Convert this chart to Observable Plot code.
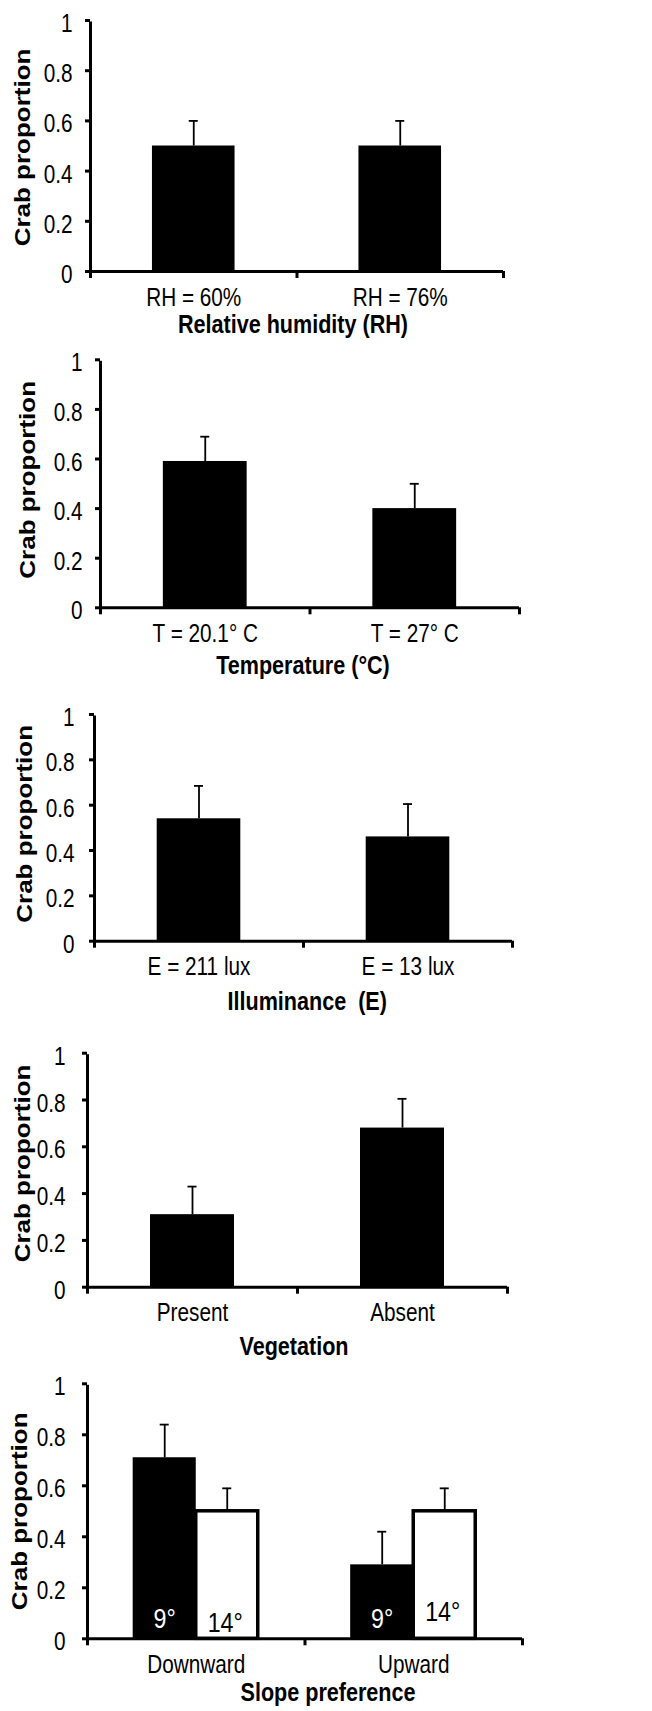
<!DOCTYPE html>
<html>
<head>
<meta charset="utf-8">
<script src="https://cdn.jsdelivr.net/npm/d3@7"></script>
<script src="https://cdn.jsdelivr.net/npm/@observablehq/plot@0.6"></script>
<style>
  html, body { margin: 0; padding: 0; background: #fff; overflow: hidden; }
  #charts svg { display: block; }
</style>
</head>
<body>
<div id="charts"></div>
<script>
// ---- data ----
const yTicks = [0, 0.2, 0.4, 0.6, 0.8, 1];
const yLabel = "Crab proportion";

const humidityTitle = "Relative humidity (RH)";
const humidityCats = ["RH = 60%", "RH = 76%"];
const humidityValues = [0.5, 0.5];
const humidityErr = [0.1, 0.1];

const tempTitle = "Temperature (°C)";
const tempCats = ["T = 20.1° C", "T = 27° C"];
const tempValues = [0.59, 0.40];
const tempErr = [0.10, 0.10];

const lightTitle = "Illuminance  (E)";
const lightCats = ["E = 211 lux", "E = 13 lux"];
const lightValues = [0.54, 0.46];
const lightErr = [0.145, 0.145];

const vegTitle = "Vegetation";
const vegCats = ["Present", "Absent"];
const vegValues = [0.31, 0.68];
const vegErr = [0.12, 0.125];

const slopeTitle = "Slope preference";
const slopeCats = ["Downward", "Upward"];
const slopeAngles = ["9°", "14°"];
const slope9Values = [0.71, 0.29];
const slope9Err = [0.13, 0.13];
const slope14Values = [0.5, 0.5];
const slope14Err = [0.09, 0.09];

// ---- styling ----
const W = 652;
const FONT = "'Liberation Sans',Arial,Helvetica,sans-serif";
const TICK_FS = 25;
const TITLE_FS = 26;
const CAP = 9;
const SQUEEZE = 0.83; // the reference text is horizontally condensed

function axesMarks(o, cats, band) {
  const last = cats[cats.length - 1];
  return [
    Plot.ruleY([0], {strokeWidth: 3, stroke: "black"}),
    Plot.ruleX([cats[0]], {x: d => d, y1: () => 0, y2: () => 1, dx: -band / 2, strokeWidth: 3, stroke: "black", insetBottom: -1.5}),
    Plot.ruleX(cats, {x: d => d, y1: () => 0, y2: () => 0, dx: -band / 2, insetBottom: -7, strokeWidth: 3, stroke: "black"}),
    Plot.ruleX([last], {x: d => d, y1: () => 0, y2: () => 0, dx: band / 2, insetBottom: -7, strokeWidth: 3, stroke: "black"}),
    Plot.ruleY(yTicks, {y: d => d, x1: () => cats[0], x2: () => cats[0], insetLeft: -5, insetRight: band, strokeWidth: 3, stroke: "black"}),
    Plot.axisY({ticks: yTicks, tickFormat: d => String(d), tickSize: 0, tickPadding: o.yPad, dy: 3.5, fontSize: TICK_FS, label: null}),
    Plot.axisX({tickSize: 0, tickPadding: 34 - 0.71 * TICK_FS, fontSize: TICK_FS, label: null}),
    Plot.text([yLabel], {text: d => d, frameAnchor: "left", rotate: -90, textAnchor: "middle", lineAnchor: "middle",
      dx: o.ylabX - o.ml, dy: o.ylabDy, fontWeight: "bold", fontSize: TITLE_FS, fill: "black", className: "ylab"}),
    Plot.text([o.title], {text: d => d, frameAnchor: "bottom", textAnchor: "middle", lineAnchor: "bottom",
      dx: o.titleDx, dy: o.titleDy, fontWeight: "bold", fontSize: TITLE_FS, fill: "black"})
  ];
}

const plotStyle = {fontFamily: FONT, fontSize: TICK_FS + "px", background: "white", color: "black", overflow: "visible"};

function simplePanel(o) {
  const band = (W - o.ml - o.mr) / o.cats.length;
  const rows = o.cats.map((c, i) => ({cat: c, value: o.values[i], err: o.err[i]}));
  return Plot.plot({
    width: W, height: o.h,
    marginTop: o.mt, marginBottom: o.mb, marginLeft: o.ml, marginRight: o.mr,
    style: plotStyle,
    x: {domain: o.cats, padding: 0, round: false, label: null},
    y: {domain: [0, 1], label: null},
    marks: [
      Plot.barY(rows, {x: "cat", y: "value", fill: "black", insetLeft: 0.3 * band, insetRight: 0.3 * band}),
      Plot.ruleX(rows, {x: "cat", y1: "value", y2: d => d.value + d.err, strokeWidth: 1.8, stroke: "black"}),
      Plot.tickY(rows, {x: "cat", y: d => d.value + d.err, insetLeft: (band - CAP) / 2, insetRight: (band - CAP) / 2, strokeWidth: 1.8, stroke: "black"}),
      ...axesMarks(o, o.cats, band)
    ]
  });
}

function slopePanel(o) {
  const cats = slopeCats;
  const band = (W - o.ml - o.mr) / cats.length;
  const rows9 = cats.map((c, i) => ({cat: c, value: slope9Values[i], err: slope9Err[i], label: slopeAngles[0]}));
  const rows14 = cats.map((c, i) => ({cat: c, value: slope14Values[i], err: slope14Err[i], label: slopeAngles[1]}));
  const bL = 0.21, mid = 0.5, wR = 0.785;
  const c9 = (bL + mid) / 2, c14 = (mid + wR) / 2;
  return Plot.plot({
    width: W, height: o.h,
    marginTop: o.mt, marginBottom: o.mb, marginLeft: o.ml, marginRight: o.mr,
    style: plotStyle,
    x: {domain: cats, padding: 0, round: false, label: null},
    y: {domain: [0, 1], label: null},
    marks: [
      Plot.barY(rows9, {x: "cat", y: "value", fill: "black", insetLeft: bL * band, insetRight: (1 - mid) * band}),
      Plot.barY(rows14, {x: "cat", y: "value", fill: "white", stroke: "black", strokeWidth: 3.5, insetLeft: mid * band, insetRight: (1 - wR) * band}),
      Plot.ruleX(rows9, {x: "cat", y1: "value", y2: d => d.value + d.err, dx: (c9 - 0.5) * band, strokeWidth: 1.8, stroke: "black"}),
      Plot.tickY(rows9, {x: "cat", y: d => d.value + d.err, insetLeft: c9 * band - CAP / 2, insetRight: (1 - c9) * band - CAP / 2, strokeWidth: 1.8, stroke: "black"}),
      Plot.ruleX(rows14, {x: "cat", y1: "value", y2: d => d.value + d.err, dx: (c14 - 0.5) * band, strokeWidth: 1.8, stroke: "black"}),
      Plot.tickY(rows14, {x: "cat", y: d => d.value + d.err, insetLeft: c14 * band - CAP / 2, insetRight: (1 - c14) * band - CAP / 2, strokeWidth: 1.8, stroke: "black"}),
      Plot.text(rows9, {x: "cat", y: () => 0, text: "label", dx: (c9 - 0.5) * band, dy: -11, lineAnchor: "bottom", fill: "white", fontSize: 28}),
      Plot.text([rows14[0]], {x: "cat", y: () => 0, text: "label", dx: (c14 - 0.5) * band - 2, dy: -6.6, lineAnchor: "bottom", fill: "black", fontSize: 28}),
      Plot.text([rows14[1]], {x: "cat", y: () => 0, text: "label", dx: (c14 - 0.5) * band - 2, dy: -18.3, lineAnchor: "bottom", fill: "black", fontSize: 28}),
      ...axesMarks(o, cats, band)
    ]
  });
}

// condense text horizontally (on screen) like the reference
function condense(svg) {
  for (const t of svg.querySelectorAll("text")) {
    const prev = t.getAttribute("transform") || "";
    if (t.closest(".ylab")) {
      // rotated label: screen-horizontal is its local y axis
      t.setAttribute("transform", `${prev} scale(1,${SQUEEZE})`.trim());
      continue;
    }
    const xa = parseFloat(t.getAttribute("x")) || 0;
    t.setAttribute("transform", `${prev} translate(${xa},0) scale(${SQUEEZE},1) translate(${-xa},0)`.trim());
  }
}

const root = document.getElementById("charts");
const panels = [
  simplePanel({cats: humidityCats, values: humidityValues, err: humidityErr, title: humidityTitle,
    h: 343, mt: 20, mb: 72, ml: 90, mr: 149, yPad: 18, titleDx: -4, titleDy: 61, ylabX: 23, ylabDy: 1.5}),
  simplePanel({cats: tempCats, values: tempValues, err: tempErr, title: tempTitle,
    h: 345, mt: 16.3, mb: 80.7, ml: 100, mr: 133, yPad: 18, titleDx: -7, titleDy: 66, ylabX: 27.5, ylabDy: -4}),
  simplePanel({cats: lightCats, values: lightValues, err: lightErr, title: lightTitle,
    h: 337, mt: 26, mb: 84.3, ml: 94, mr: 140, yPad: 20, titleDx: 3.7, titleDy: 69, ylabX: 25, ylabDy: -4}),
  simplePanel({cats: vegCats, values: vegValues, err: vegErr, title: vegTitle,
    h: 341, mt: 27.7, mb: 79.3, ml: 87, mr: 145, yPad: 22, titleDx: -3.5, titleDy: 68, ylabX: 23, ylabDy: -6.7}),
  slopePanel({title: slopeTitle,
    h: 345, mt: 17.3, mb: 72.7, ml: 87, mr: 130, yPad: 22, titleDx: 23, titleDy: 62, ylabX: 20, ylabDy: 0})
];
for (const svg of panels) {
  root.append(svg);
  condense(svg);
}
</script>
</body>
</html>
